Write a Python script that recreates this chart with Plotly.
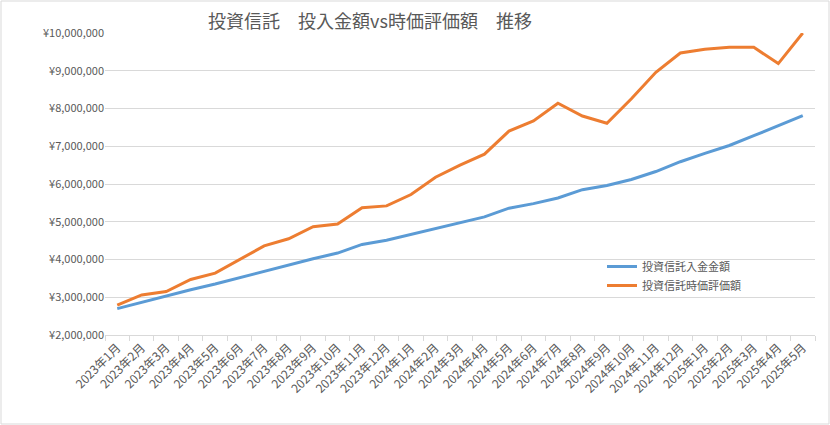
import plotly.graph_objects as go

months = ["2023年1月", "2023年2月", "2023年3月", "2023年4月", "2023年5月", "2023年6月",
          "2023年7月", "2023年8月", "2023年9月", "2023年10月", "2023年11月", "2023年12月",
          "2024年1月", "2024年2月", "2024年3月", "2024年4月", "2024年5月", "2024年6月",
          "2024年7月", "2024年8月", "2024年9月", "2024年10月", "2024年11月", "2024年12月",
          "2025年1月", "2025年2月", "2025年3月", "2025年4月", "2025年5月"]

# 投資信託入金金額
invested = [2700000, 2870000, 3040000, 3200000, 3350000, 3520000, 3680000, 3850000,
            4020000, 4170000, 4400000, 4510000, 4660000, 4820000, 4980000, 5130000,
            5360000, 5480000, 5630000, 5850000, 5960000, 6120000, 6330000, 6590000,
            6810000, 7020000, 7280000, 7550000, 7810000]

# 投資信託時価評価額
market = [2790000, 3060000, 3150000, 3470000, 3640000, 4010000, 4360000, 4550000,
          4870000, 4940000, 5370000, 5420000, 5720000, 6180000, 6500000, 6790000,
          7400000, 7670000, 8140000, 7800000, 7610000, 8260000, 8960000, 9470000,
          9570000, 9620000, 9620000, 9190000, 10000000]

font_jp = "Noto Sans CJK JP"
gray = "#595959"

fig = go.Figure()
fig.add_trace(go.Scatter(x=months, y=invested, mode="lines", name="投資信託入金金額",
                         line=dict(color="#5B9BD5", width=3)))
fig.add_trace(go.Scatter(x=months, y=market, mode="lines", name="投資信託時価評価額",
                         line=dict(color="#ED7D31", width=3)))

W, H = 830, 425
ml, mr, mt, mb = 105, 15, 33, 90
pw, ph = W - ml - mr, H - mt - mb

fig.update_layout(
    width=W, height=H,
    margin=dict(l=ml, r=mr, t=mt, b=mb),
    paper_bgcolor="white", plot_bgcolor="white",
    font=dict(family=font_jp, color=gray, size=11),
    title=dict(text="投資信託　投入金額vs時価評価額　推移",
               font=dict(size=18, color=gray, family=font_jp),
               x=370 / W, xanchor="center", y=1 - 22 / H, yanchor="middle"),
    legend=dict(x=(602 - ml) / pw, y=(335 - 252) / ph, xanchor="left", yanchor="top",
                bgcolor="rgba(0,0,0,0)", font=dict(size=11, color=gray),
                tracegroupgap=0, itemwidth=30),
    showlegend=True,
    shapes=[dict(type="rect", xref="paper", yref="paper",
                 x0=-(ml - 1) / pw, x1=1 + (mr - 1) / pw,
                 y0=-(mb - 1) / ph, y1=1 + (mt - 1) / ph,
                 line=dict(color="#d9d9d9", width=1))],
)

fig.update_xaxes(type="category", tickangle=-45, showgrid=False,
                 showline=True, linecolor="#d9d9d9", linewidth=1,
                 ticks="outside", tickson="boundaries", ticklen=5, tickcolor="#d9d9d9",
                 tickfont=dict(size=12, color=gray), range=[-0.5, len(months) - 0.5])
fig.update_yaxes(range=[2000000, 10000000], dtick=1000000, tickprefix="¥",
                 tickformat=",d", showgrid=True, gridcolor="#d9d9d9", gridwidth=1,
                 zeroline=False, tickfont=dict(size=11, color=gray), ticks="")

fig.write_html("out.html", config={"displayModeBar": False},
               post_script="document.body.style.margin='0';")
